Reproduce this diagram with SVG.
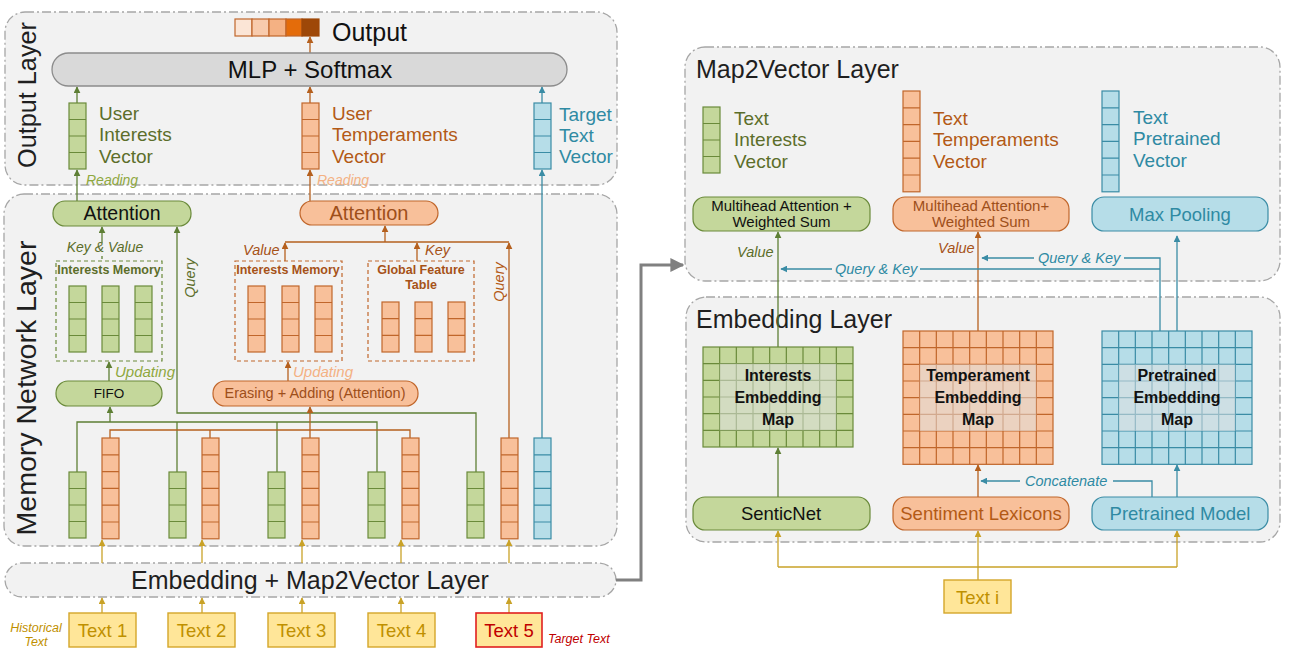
<svg xmlns="http://www.w3.org/2000/svg" xmlns:xlink="http://www.w3.org/1999/xlink" width="1290" height="652" viewBox="0 0 1290 652">
<style>
text{font-family:"Liberation Sans",Arial,sans-serif}
.panel{fill:#F2F2F2;stroke:#A6A6A6;stroke-width:1.3;stroke-dasharray:9 3 2 3}
.gf{fill:#C4D79B;stroke:#6A8A3A;stroke-width:1.2}
.of{fill:#F8C09A;stroke:#C0662B;stroke-width:1.2}
.bf{fill:#B6DDE8;stroke:#3A8CA5;stroke-width:1.2}
.gl{fill:none;stroke:#6A8A3A;stroke-width:1.2}
.ol{fill:none;stroke:#C0662B;stroke-width:1.2}
.bl{fill:none;stroke:#3A8CA5;stroke-width:1.2}
.yf{fill:#FFE699;stroke:#D4A62A;stroke-width:1.4}
.dash{fill:none;stroke-width:1.2;stroke-dasharray:4 3}
.cg{fill:none;stroke:#5E7F35;stroke-width:1.3}
.co{fill:none;stroke:#B5601E;stroke-width:1.3}
.cb{fill:none;stroke:#3A8CA5;stroke-width:1.3}
.cy{fill:none;stroke:#C9A227;stroke-width:1.3}
.ovl{fill:#E0E0E0;opacity:0.55}
.tg{fill:#5C6E2A}
.to{fill:#B35A16}
.tb{fill:#2F8AA3}
.it{font-style:italic}
.b{font-weight:bold}
</style>
<defs>
<marker id="ag" viewBox="0 0 10 10" refX="9" refY="5" markerWidth="7" markerHeight="7" markerUnits="userSpaceOnUse" orient="auto"><path d="M0 0L10 5L0 10z" fill="#5E7F35"/></marker>
<marker id="ao" viewBox="0 0 10 10" refX="9" refY="5" markerWidth="7" markerHeight="7" markerUnits="userSpaceOnUse" orient="auto"><path d="M0 0L10 5L0 10z" fill="#B5601E"/></marker>
<marker id="ab" viewBox="0 0 10 10" refX="9" refY="5" markerWidth="7" markerHeight="7" markerUnits="userSpaceOnUse" orient="auto"><path d="M0 0L10 5L0 10z" fill="#3A8CA5"/></marker>
<marker id="ay" viewBox="0 0 10 10" refX="9" refY="5" markerWidth="7" markerHeight="7" markerUnits="userSpaceOnUse" orient="auto"><path d="M0 0L10 5L0 10z" fill="#C9A227"/></marker>
<marker id="agr" viewBox="0 0 10 10" refX="9" refY="5" markerWidth="14" markerHeight="14" markerUnits="userSpaceOnUse" orient="auto"><path d="M0 0L10 5L0 10z" fill="#808080"/></marker>
<g id="gv4"><rect width="17" height="66" class="gf"/><path d="M0 16.5h17M0 33h17M0 49.5h17" class="gl"/></g>
<g id="ov4"><rect width="17" height="66" class="of"/><path d="M0 16.5h17M0 33h17M0 49.5h17" class="ol"/></g>
<g id="bv4"><rect width="17" height="66" class="bf"/><path d="M0 16.5h17M0 33h17M0 49.5h17" class="bl"/></g>
<g id="ov3"><rect width="17" height="50" class="of"/><path d="M0 16.67h17M0 33.33h17" class="ol"/></g>
<g id="ov6"><rect width="17" height="100.8" class="of"/><path d="M0 16.8h17M0 33.6h17M0 50.4h17M0 67.2h17M0 84h17" class="ol"/></g>
<g id="bv6"><rect width="17" height="100.8" class="bf"/><path d="M0 16.8h17M0 33.6h17M0 50.4h17M0 67.2h17M0 84h17" class="bl"/></g>
</defs>

<!-- panels -->
<g id="output-layer">
<rect class="panel" x="5" y="12" width="612" height="173" rx="20"/>
<text x="0" y="0" font-size="25" fill="#1F1F1F" text-anchor="middle" transform="translate(36,95) rotate(-90)" textLength="146" lengthAdjust="spacingAndGlyphs">Output Layer</text>
</g>
<g id="memory-network-layer">
<rect class="panel" x="4" y="194" width="613" height="352" rx="20"/>
<text x="0" y="0" font-size="27" fill="#1F1F1F" text-anchor="middle" transform="translate(36,388) rotate(-90)" textLength="295" lengthAdjust="spacingAndGlyphs">Memory Network Layer</text>
</g>
<g id="embedding-map2vector-layer">
<rect class="panel" x="5" y="563" width="611" height="34" rx="17"/>
<text x="310" y="589" font-size="25" fill="#1F1F1F" text-anchor="middle">Embedding + Map2Vector Layer</text>
</g>
<g id="map2vector-layer">
<rect class="panel" x="685" y="47" width="595" height="234" rx="20"/>
<text x="696" y="78" font-size="25" fill="#1F1F1F">Map2Vector Layer</text>
</g>
<g id="embedding-layer">
<rect class="panel" x="686" y="297" width="594" height="245" rx="20"/>
<text x="696" y="328" font-size="25" fill="#1F1F1F">Embedding Layer</text>
</g>

<!-- connectors -->
<g id="connectors">
<path class="co" d="M310 53V37" marker-end="url(#ao)"/>
<path class="cg" d="M77 103V87" marker-end="url(#ag)"/>
<path class="co" d="M310 103V87" marker-end="url(#ao)"/>
<path class="cb" d="M542 103V87" marker-end="url(#ab)"/>
<path class="cg" d="M77 201V170" marker-end="url(#ag)"/>
<path class="co" d="M310 201V170" marker-end="url(#ao)"/>
<path class="cb" d="M542 438V170" marker-end="url(#ab)"/>
<path class="cg" d="M102 243V227" marker-end="url(#ag)"/>
<path class="cg" d="M102 256V261" stroke-dasharray="3 2"/>
<path class="cg" d="M109 381V362" marker-end="url(#ag)"/>
<path class="cg" d="M77 472V422H377V472M177 472V422M277 472V422"/>
<path class="cg" d="M110 422V407" marker-end="url(#ag)"/>
<path class="cg" d="M476 472V413H177V227" marker-end="url(#ag)"/>
<path class="co" d="M110 438V430H410V438M210 438V430M310 438V430"/>
<path class="co" d="M310 430V407" marker-end="url(#ao)"/>
<path class="co" d="M288 381V362" marker-end="url(#ao)"/>
<path class="co" d="M285 242H509"/>
<path class="co" d="M509 438V243" marker-end="url(#ao)"/>
<path class="co" d="M285 261V243" marker-end="url(#ao)"/>
<path class="co" d="M417 261V243" marker-end="url(#ao)"/>
<path class="co" d="M385 242V226" marker-end="url(#ao)"/>
<path class="cy" d="M102 563V540" marker-end="url(#ay)"/>
<path class="cy" d="M202 563V540" marker-end="url(#ay)"/>
<path class="cy" d="M302 563V540" marker-end="url(#ay)"/>
<path class="cy" d="M401 563V540" marker-end="url(#ay)"/>
<path class="cy" d="M509 563V540" marker-end="url(#ay)"/>
<path class="cy" d="M102 613V598" marker-end="url(#ay)"/>
<path class="cy" d="M202 613V598" marker-end="url(#ay)"/>
<path class="cy" d="M302 613V598" marker-end="url(#ay)"/>
<path class="cy" d="M401 613V598" marker-end="url(#ay)"/>
<path class="cy" d="M509 613V598" marker-end="url(#ay)"/>
<path d="M616 580H641V265H683" fill="none" stroke="#808080" stroke-width="3" marker-end="url(#agr)"/>
<path class="cg" d="M778 497V448" marker-end="url(#ag)"/>
<path class="co" d="M978 497V465" marker-end="url(#ao)"/>
<path class="cb" d="M1177 497V465" marker-end="url(#ab)"/>
<path class="cb" d="M1152 497V481H1113"/>
<path class="cb" d="M1020 481H981" marker-end="url(#ab)"/>
<path class="cy" d="M978 580V531" marker-end="url(#ay)"/>
<path class="cy" d="M778 567H1177"/>
<path class="cy" d="M778 567V531" marker-end="url(#ay)"/>
<path class="cy" d="M1177 567V531" marker-end="url(#ay)"/>
<path class="cg" d="M778 347V232" marker-end="url(#ag)"/>
<path class="co" d="M978 331V232" marker-end="url(#ao)"/>
<path class="cb" d="M1177 331V236" marker-end="url(#ab)"/>
<path class="cb" d="M1160 331V258H1124"/>
<path class="cb" d="M1034 258H982" marker-end="url(#ab)"/>
<path class="cb" d="M1160 269H920"/>
<path class="cb" d="M832 269H781" marker-end="url(#ab)"/>
</g>

<!-- output layer nodes -->
<g id="output-vector">
<rect x="235" y="19" width="17" height="17" fill="#FBE5D6" stroke="#C0662B" stroke-width="1.2"/>
<rect x="252" y="19" width="17" height="17" fill="#F8CBAD" stroke="#C0662B" stroke-width="1.2"/>
<rect x="269" y="19" width="17" height="17" fill="#F4B183" stroke="#C0662B" stroke-width="1.2"/>
<rect x="286" y="19" width="16" height="17" fill="#E46C0A" stroke="#C0662B" stroke-width="1.2"/>
<rect x="302" y="19" width="17" height="17" fill="#9E4808" stroke="#9E4808" stroke-width="1.2"/>
<text x="332" y="41" font-size="25" fill="#111">Output</text>
</g>
<g id="mlp-softmax">
<rect x="52" y="53" width="515" height="33" rx="16.5" fill="#D9D9D9" stroke="#8C8C8C" stroke-width="1.3"/>
<text x="310" y="78" font-size="24" fill="#111" text-anchor="middle">MLP + Softmax</text>
</g>
<g id="user-interests-vector">
<use href="#gv4" x="69" y="103"/>
<text class="tg" font-size="19"><tspan x="99" y="120">User</tspan><tspan x="99" y="141">Interests</tspan><tspan x="99" y="163">Vector</tspan></text>
<text x="86" y="185" font-size="14" class="it" fill="#8FA83F">Reading</text>
</g>
<g id="user-temperaments-vector">
<use href="#ov4" x="302" y="103"/>
<text class="to" font-size="19"><tspan x="332" y="120">User</tspan><tspan x="332" y="141">Temperaments</tspan><tspan x="332" y="163">Vector</tspan></text>
<text x="317" y="185" font-size="14" class="it" fill="#F4B183">Reading</text>
</g>
<g id="target-text-vector">
<use href="#bv4" x="534" y="103"/>
<text class="tb" font-size="19"><tspan x="559" y="121">Target</tspan><tspan x="559" y="142">Text</tspan><tspan x="559" y="163">Vector</tspan></text>
</g>

<!-- memory network nodes -->
<g id="attention-green">
<rect x="53" y="201" width="138" height="25" rx="12" class="gf"/>
<text x="122" y="220" font-size="19.5" fill="#111" text-anchor="middle">Attention</text>
</g>
<g id="attention-orange">
<rect x="300" y="201" width="138" height="24" rx="12" class="of"/>
<text x="369" y="220" font-size="20" fill="#9E4F1A" text-anchor="middle">Attention</text>
</g>
<g id="interests-memory-green">
<rect x="56" y="261" width="106" height="100" class="dash" stroke="#6A8A3A"/>
<text x="109" y="274" font-size="12.5" class="b tg" text-anchor="middle">Interests Memory</text>
<use href="#gv4" x="69" y="286"/>
<use href="#gv4" x="102" y="286"/>
<use href="#gv4" x="135" y="286"/>
</g>
<g id="fifo">
<rect x="56" y="381" width="106" height="25" rx="12" class="gf"/>
<text x="109" y="398" font-size="13.5" fill="#111" text-anchor="middle">FIFO</text>
</g>
<g id="interests-memory-orange">
<rect x="235" y="261" width="107" height="100" class="dash" stroke="#C0662B"/>
<text x="288" y="274" font-size="12.5" class="b" fill="#A65218" text-anchor="middle">Interests Memory</text>
<use href="#ov4" x="248" y="286"/>
<use href="#ov4" x="282" y="286"/>
<use href="#ov4" x="315" y="286"/>
</g>
<g id="global-feature-table">
<rect x="368" y="261" width="106" height="100" class="dash" stroke="#C0662B"/>
<text font-size="12.5" class="b" fill="#A65218" text-anchor="middle"><tspan x="421" y="274">Global Feature</tspan><tspan x="421" y="289">Table</tspan></text>
<use href="#ov3" x="382" y="302"/>
<use href="#ov3" x="415" y="302"/>
<use href="#ov3" x="448" y="302"/>
</g>
<g id="erasing-adding">
<rect x="213" y="381" width="205" height="25" rx="12" class="of"/>
<text x="315" y="398" font-size="14.5" fill="#9E4F1A" text-anchor="middle">Erasing + Adding (Attention)</text>
</g>
<g id="memory-labels">
<text x="105" y="252" font-size="14" class="it tg" text-anchor="middle">Key &amp; Value</text>
<text x="115" y="377" font-size="15" class="it" fill="#8FA83F">Updating</text>
<text x="0" y="0" font-size="14.5" class="it tg" text-anchor="middle" transform="translate(195,278) rotate(-90)">Query</text>
<text x="243" y="255" font-size="14.5" class="it" fill="#A65218">Value</text>
<text x="425" y="255" font-size="14.5" class="it" fill="#A65218">Key</text>
<text x="293" y="377" font-size="15" class="it" fill="#F4B183">Updating</text>
<text x="0" y="0" font-size="14.5" class="it" fill="#B35A16" text-anchor="middle" transform="translate(504,282) rotate(-90)">Query</text>
</g>
<g id="text-vectors">
<use href="#gv4" x="69" y="472"/>
<use href="#ov6" x="102" y="438"/>
<use href="#gv4" x="169" y="472"/>
<use href="#ov6" x="202" y="438"/>
<use href="#gv4" x="268" y="472"/>
<use href="#ov6" x="302" y="438"/>
<use href="#gv4" x="368" y="472"/>
<use href="#ov6" x="402" y="438"/>
<use href="#gv4" x="467" y="472"/>
<use href="#ov6" x="501" y="438"/>
<use href="#bv6" x="534" y="438"/>
</g>

<!-- input texts -->
<g id="text1"><rect x="69" y="613" width="67" height="34" class="yf"/><text x="102.5" y="637" font-size="18.5" fill="#BF9000" text-anchor="middle">Text 1</text></g>
<g id="text2"><rect x="168" y="613" width="67" height="34" class="yf"/><text x="201.5" y="637" font-size="18.5" fill="#BF9000" text-anchor="middle">Text 2</text></g>
<g id="text3"><rect x="268" y="613" width="67" height="34" class="yf"/><text x="301.5" y="637" font-size="18.5" fill="#BF9000" text-anchor="middle">Text 3</text></g>
<g id="text4"><rect x="368" y="613" width="67" height="34" class="yf"/><text x="401.5" y="637" font-size="18.5" fill="#BF9000" text-anchor="middle">Text 4</text></g>
<g id="text5"><rect x="476" y="613" width="66" height="34" fill="#FFE699" stroke="#E02020" stroke-width="1.6"/><text x="509" y="637" font-size="18.5" fill="#C00000" text-anchor="middle">Text 5</text></g>
<g id="input-labels">
<text font-size="12.5" class="it" fill="#BF9000" text-anchor="middle"><tspan x="36" y="632">Historical</tspan><tspan x="36" y="646">Text</tspan></text>
<text x="548" y="643" font-size="12.5" class="it" fill="#C00000">Target Text</text>
</g>

<!-- map2vector nodes -->
<g id="text-interests-vector">
<use href="#gv4" x="703" y="107"/>
<text class="tg" font-size="19"><tspan x="734" y="125">Text</tspan><tspan x="734" y="146">Interests</tspan><tspan x="734" y="168">Vector</tspan></text>
</g>
<g id="text-temperaments-vector">
<use href="#ov6" x="903" y="91"/>
<text class="to" font-size="19"><tspan x="933" y="125">Text</tspan><tspan x="933" y="146">Temperaments</tspan><tspan x="933" y="168">Vector</tspan></text>
</g>
<g id="text-pretrained-vector">
<use href="#bv6" x="1102" y="91"/>
<text class="tb" font-size="19"><tspan x="1133" y="124">Text</tspan><tspan x="1133" y="145">Pretrained</tspan><tspan x="1133" y="167">Vector</tspan></text>
</g>
<g id="multihead-green">
<rect x="693" y="197" width="177" height="34" rx="12" class="gf"/>
<text font-size="15" fill="#111" text-anchor="middle"><tspan x="781.5" y="211">Multihead Attention +</tspan><tspan x="781.5" y="227">Weighted Sum</tspan></text>
</g>
<g id="multihead-orange">
<rect x="893" y="197" width="176" height="34" rx="12" class="of"/>
<text font-size="15" fill="#9E4F1A" text-anchor="middle"><tspan x="981" y="211">Multihead Attention+</tspan><tspan x="981" y="227">Weighted Sum</tspan></text>
</g>
<g id="max-pooling">
<rect x="1092" y="197" width="176" height="34" rx="12" class="bf"/>
<text x="1180" y="221" font-size="18.5" class="tb" text-anchor="middle">Max Pooling</text>
</g>
<g id="map2vector-labels">
<text x="737" y="257" font-size="14.5" class="it tg">Value</text>
<text x="938" y="253" font-size="14.5" class="it" fill="#A65218">Value</text>
<text x="1038" y="263" font-size="14.5" class="it tb">Query &amp; Key</text>
<text x="835" y="274" font-size="14.5" class="it tb">Query &amp; Key</text>
<text x="1025" y="486" font-size="14.5" class="it tb">Concatenate</text>
</g>

<!-- embedding layer nodes -->
<g id="interests-embedding-map">
<rect x="703" y="347" width="150" height="100" class="gf"/>
<path class="gl" d="M719.67 347v100M736.33 347v100M753 347v100M769.67 347v100M786.33 347v100M803 347v100M819.67 347v100M836.33 347v100M703 363.67h150M703 380.33h150M703 397h150M703 413.67h150M703 430.33h150"/>
<rect x="719.67" y="363.67" width="116.67" height="66.67" class="ovl"/>
<text font-size="16" class="b" fill="#111" text-anchor="middle"><tspan x="778" y="381">Interests</tspan><tspan x="778" y="403">Embedding</tspan><tspan x="778" y="425">Map</tspan></text>
</g>
<g id="temperament-embedding-map">
<rect x="903" y="331" width="150" height="133.33" class="of"/>
<path class="ol" d="M919.67 331v133.33M936.33 331v133.33M953 331v133.33M969.67 331v133.33M986.33 331v133.33M1003 331v133.33M1019.67 331v133.33M1036.33 331v133.33M903 347.67h150M903 364.33h150M903 381h150M903 397.67h150M903 414.33h150M903 431h150M903 447.67h150"/>
<rect x="919.67" y="364.33" width="116.67" height="66.67" class="ovl"/>
<text font-size="16" class="b" fill="#111" text-anchor="middle"><tspan x="978" y="381">Temperament</tspan><tspan x="978" y="403">Embedding</tspan><tspan x="978" y="425">Map</tspan></text>
</g>
<g id="pretrained-embedding-map">
<rect x="1102" y="331" width="150" height="133.33" class="bf"/>
<path class="bl" d="M1118.67 331v133.33M1135.33 331v133.33M1152 331v133.33M1168.67 331v133.33M1185.33 331v133.33M1202 331v133.33M1218.67 331v133.33M1235.33 331v133.33M1102 347.67h150M1102 364.33h150M1102 381h150M1102 397.67h150M1102 414.33h150M1102 431h150M1102 447.67h150"/>
<rect x="1118.67" y="364.33" width="116.67" height="66.67" class="ovl"/>
<text font-size="16" class="b" fill="#111" text-anchor="middle"><tspan x="1177" y="381">Pretrained</tspan><tspan x="1177" y="403">Embedding</tspan><tspan x="1177" y="425">Map</tspan></text>
</g>
<g id="senticnet">
<rect x="693" y="497" width="177" height="33" rx="12" class="gf"/>
<text x="781" y="520" font-size="18.5" fill="#111" text-anchor="middle">SenticNet</text>
</g>
<g id="sentiment-lexicons">
<rect x="893" y="497" width="176" height="33" rx="12" class="of"/>
<text x="981" y="520" font-size="18.5" fill="#B35A16" text-anchor="middle">Sentiment Lexicons</text>
</g>
<g id="pretrained-model">
<rect x="1092" y="497" width="176" height="33" rx="12" class="bf"/>
<text x="1180" y="520" font-size="18.5" class="tb" text-anchor="middle">Pretrained Model</text>
</g>
<g id="text-i">
<rect x="944" y="580" width="67" height="33" class="yf"/>
<text x="977.5" y="604" font-size="18.5" fill="#BF9000" text-anchor="middle">Text i</text>
</g>
</svg>
